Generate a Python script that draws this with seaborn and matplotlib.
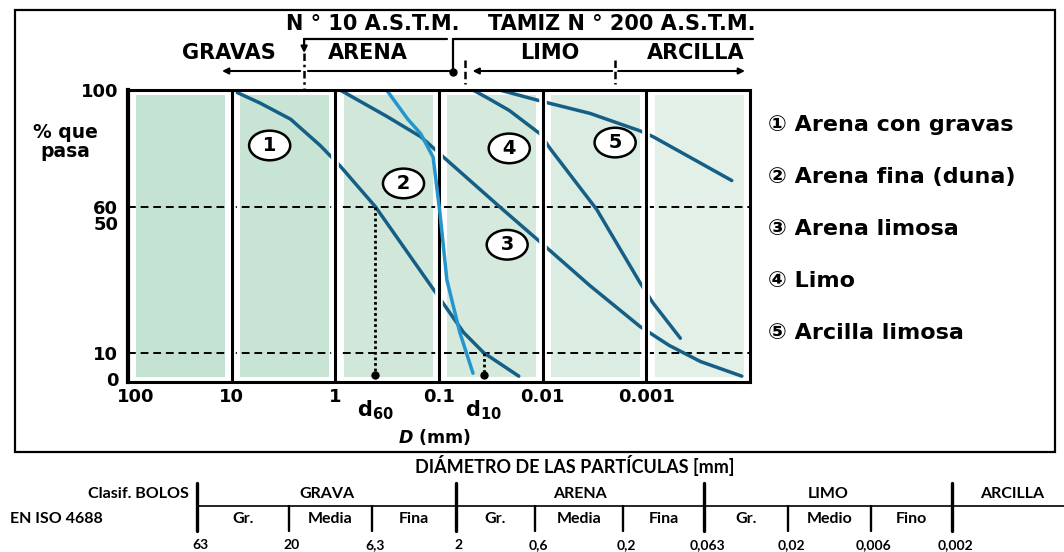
import numpy as np
import pandas as pd
import matplotlib
matplotlib.use("Agg")
import matplotlib.pyplot as plt
import seaborn as sns
from matplotlib.lines import Line2D
from matplotlib.patches import Rectangle
from matplotlib.transforms import blended_transform_factory, ScaledTranslation

# curvas granulometricas: D (mm) y % que pasa
D1 = [10, 5.3, 2.7, 1.4, 0.9, 0.41, 0.1, 0.058, 0.037, 0.017]
P1 = [100, 95.5, 90, 81, 74, 60, 29, 17, 10, 2]
D2 = [0.32, 0.2, 0.15, 0.114, 0.098, 0.084, 0.063, 0.047]
P2 = [100, 90, 85, 77, 58, 35, 17, 3]
D3 = [0.9, 0.32, 0.15, 0.084, 0.026, 0.0106, 0.0035, 0.00115, 0.0006, 0.0003, 0.00012]
P3 = [100, 91, 84, 76, 60, 48, 33, 19, 12.5, 7, 2]
D4 = [0.047, 0.033, 0.021, 0.0106, 0.0085, 0.003, 0.00115, 0.00086, 0.00047]
P4 = [100, 97, 93, 85, 80, 59, 34, 27, 15]
D5 = [0.026, 0.0099, 0.0035, 0.00115, 0.00086, 0.00015]
P5 = [100, 96, 92, 86, 84, 69]

curvas = ["Arena con gravas", "Arena fina (duna)", "Arena limosa", "Limo", "Arcilla limosa"]
simbolos = ["①", "②", "③", "④", "⑤"]
numeros = ["1", "2", "3", "4", "5"]
# donde van los numeros en circulo dentro del grafico
num_D = [4.3, 0.22, 0.022, 0.021, 0.002]
num_P = [81, 68, 47, 80, 82]

d60 = 0.41
d10 = 0.037

xticks = [100, 10, 1, 0.1, 0.01, 0.001]
xticklabels = ["100", "10", "1", "0.1", "0.01", "0.001"]
yticks = [0, 10, 50, 60, 100]
decadas = [100, 10, 1, 0.1, 0.01, 0.001, 0.0001]

# limites de las fracciones arriba (mm)
lim_n10 = 2
lim_n200 = 0.074
lim_arcilla = 0.002

# tabla EN ISO 4688
tabla_valores = ["63", "20", "6,3", "2", "0,6", "0,2", "0,063", "0,02", "0,006", "0,002"]
tabla_mayor = [1, 0, 0, 1, 0, 0, 1, 0, 0, 1]
grupos = ["GRAVA", "ARENA", "LIMO"]
subgrupos = ["Gr.", "Media", "Fina", "Gr.", "Media", "Fina", "Gr.", "Medio", "Fino"]

W, H = 1064, 552
tabla_x = [197, 289, 372, 456, 535, 623, 704, 788, 871, 952]   # pixeles

sns.set_theme(style="white")
plt.rcParams["font.family"] = ["DejaVu Sans", "Noto Sans CJK JP"]
plt.rcParams["font.weight"] = "bold"
plt.rcParams["text.color"] = "black"
plt.rcParams["mathtext.fontset"] = "custom"
plt.rcParams["mathtext.rm"] = "DejaVu Sans:bold"
plt.rcParams["mathtext.it"] = "DejaVu Sans:italic:bold"
plt.rcParams["mathtext.bf"] = "DejaVu Sans:bold"

fig = plt.figure(figsize=(W / 100, H / 100), dpi=100)
ax = fig.add_axes([128 / W, 1 - 382 / H, (750 - 128) / W, (382 - 90) / H])
ax.set_xscale("log")

filas = []
for nombre, D, P in zip(curvas, [D1, D2, D3, D4, D5], [P1, P2, P3, P4, P5]):
    for d, p in zip(D, P):
        filas.append({"curva": nombre, "D": d, "P": p})
df = pd.DataFrame(filas)
colores = dict(zip(curvas, ["#155f86", "#2595cd", "#155f86", "#155f86", "#155f86"]))

# la arena fina va encima de la linea de 0.1 mm, las demas debajo del halo
sns.lineplot(data=df[df.curva != curvas[1]], x="D", y="P", hue="curva", palette=colores,
             sort=False, estimator=None, lw=2.5, legend=False, ax=ax, zorder=3)
sns.lineplot(data=df[df.curva == curvas[1]], x="D", y="P", hue="curva", palette=colores,
             sort=False, estimator=None, lw=2.5, legend=False, ax=ax, zorder=5.5)

ax.set_xlim(100, 0.0001)
ax.set_ylim(0, 100)

# fondo verde por decada
verdes = ["#c4e2d1", "#c8e4d4", "#d0e7d9", "#d5e9dd", "#dbece2", "#e2f0e7"]
for i in range(6):
    izq = decadas[i] * 10 ** (-0.08)
    der = decadas[i + 1] * 10 ** (0.06)
    ax.axvspan(izq, der, 0.017, 0.983, color=verdes[i], lw=0, zorder=0)

# lineas 60 y 10 %
for yy in [60, 10]:
    ax.axhline(yy, color="black", lw=1.4, ls=(0, (4, 2.5)), zorder=2)

# lineas verticales con halo blanco
for v in decadas[1:-1]:
    ax.axvline(v, color="white", lw=5.5, zorder=4)
    ax.axvline(v, color="black", lw=2.2, zorder=5)

# d60 y d10
for dd, pp in [(d60, 60), (d10, 10)]:
    ax.plot([dd, dd], [pp, 2.5], color="black", lw=2, ls=(0, (1, 1)), zorder=3)
    ax.plot([dd], [2.5], "o", color="black", ms=5, zorder=3)

# numeros en circulo
for n, xd, yp in zip(numeros, num_D, num_P):
    ax.text(xd, yp, " " + n + " ", fontsize=14, ha="center", va="center", zorder=6,
            bbox=dict(boxstyle="ellipse,pad=0.05", fc="white", ec="black", lw=1.8))

for s in ax.spines.values():
    s.set_color("black")
    s.set_linewidth(2.2)
    s.set_zorder(6)
ax.spines["left"].set_linewidth(3)

ax.set_xticks(xticks)
ax.set_xticklabels(xticklabels)
ax.xaxis.set_minor_locator(matplotlib.ticker.NullLocator())
ax.set_yticks(yticks)
ax.set_yticklabels([str(y) for y in yticks])
ax.tick_params(axis="both", length=0, labelsize=13, colors="black")
ax.tick_params(axis="y", pad=7)
ax.tick_params(axis="x", pad=4)
ax.set_xlabel("")
ax.set_ylabel("")
for lbl in ax.get_yticklabels():
    if lbl.get_text() == "50":
        lbl.set_transform(lbl.get_transform() + ScaledTranslation(0, 0.13, fig.dpi_scale_trans))
    if lbl.get_text() == "0":
        lbl.set_transform(lbl.get_transform() + ScaledTranslation(0, 0.03, fig.dpi_scale_trans))
for lbl in ax.get_xticklabels():
    if lbl.get_text() == "100":
        lbl.set_transform(lbl.get_transform() + ScaledTranslation(0.08, 0, fig.dpi_scale_trans))

fig.canvas.draw()


def px(xd):
    # pixel x de un diametro
    return ax.transData.transform((xd, 50))[0]


def texto(x, y, s, **kw):
    fig.text(x / W, 1 - y / H, s, **kw)


def linea(xs, ys, **kw):
    fig.add_artist(Line2D([x / W for x in xs], [1 - y / H for y in ys],
                          transform=fig.transFigure, color="black", **kw))


def flecha(x0, x1, y0, y1=None, lw=1.5):
    if y1 is None:
        y1 = y0
    ax.annotate("", xy=(x1, H - y1), xytext=(x0, H - y0), xycoords="figure pixels",
                arrowprops=dict(arrowstyle="-|>", lw=lw, color="black", mutation_scale=9,
                                shrinkA=0, shrinkB=0))


trans = blended_transform_factory(ax.transData, fig.transFigure)
ax.text(d60, 1 - 410 / H, r"$\mathrm{d}_{60}$", transform=trans, fontsize=15,
        ha="center", va="center")
ax.text(d10, 1 - 410 / H, r"$\mathrm{d}_{10}$", transform=trans, fontsize=15,
        ha="center", va="center")
texto(434, 437, r"$D$ (mm)", fontsize=12.5, ha="center", va="center")

texto(65, 142, "% que\npasa", fontsize=13.5, ha="center", va="center", linespacing=1.0)

# cabecera ASTM
xa, xb, xc = px(lim_n10), px(lim_n200), px(lim_arcilla)
texto(373, 24, "N ° 10 A.S.T.M.", fontsize=15, ha="center", va="center")
texto(622, 24, "TAMIZ N ° 200 A.S.T.M.", fontsize=15, ha="center", va="center")
for s, xx in zip(["GRAVAS", "ARENA", "LIMO", "ARCILLA"], [229, 368, 550, 696]):
    texto(xx, 53, s, fontsize=15, ha="center", va="center")

linea([xa, xb - 6], [39, 39], lw=1.6)
flecha(xa, xa, 39, 53, lw=1.6)
linea([xa, xa], [53, 90], lw=1.8, ls=(0, (3, 1.5, 1, 1.5)))
linea([xb, 753], [39, 39], lw=1.6)
linea([xb, xb], [39, 72], lw=1.6)
linea([xb], [72], marker="o", ms=5)
linea([xb + 12, xb + 12], [60, 84], lw=1.8, ls=(0, (3, 1.5)))
linea([xc, xc], [60, 84], lw=1.8, ls=(0, (3, 1.5)))
flecha(xa - 4, 222, 71)
linea([xa + 4, xb], [71, 71], lw=1.5)
flecha(xc - 3, xb + 20, 71)
flecha(xc + 3, 745, 71)

# leyenda
for i, (sim, nombre) in enumerate(zip(simbolos, curvas)):
    texto(768, 125 + i * 52, sim + " " + nombre, fontsize=16, ha="left", va="center")

# marco exterior
fig.add_artist(Rectangle((15 / W, 1 - 452 / H), (1055 - 15) / W, (452 - 10) / H,
                         transform=fig.transFigure, fill=False, lw=1.6, ec="black"))

# tabla inferior
ft = ["Lato", "DejaVu Sans"]
texto(575, 466, "DIÁMETRO DE LAS PARTÍCULAS [mm]", fontsize=13, ha="center",
      va="center", family=ft)
texto(189, 494, "Clasif. BOLOS", fontsize=11.5, ha="right", va="center", family=ft)
texto(10, 519, "EN ISO 4688", fontsize=11.5, ha="left", va="center", family=ft)
mayores = [x for x, m in zip(tabla_x, tabla_mayor) if m]
for i, g in enumerate(grupos):
    texto((mayores[i] + mayores[i + 1]) / 2, 494, g, fontsize=11.5, ha="center",
          va="center", family=ft)
texto(1012, 494, "ARCILLA", fontsize=11.5, ha="center", va="center", family=ft)
linea([tabla_x[0], W], [506, 506], lw=1.2)
for x, m in zip(tabla_x, tabla_mayor):
    if m:
        linea([x, x], [483, 531], lw=2.4)
    else:
        linea([x, x], [506, 531], lw=1.7)
for i, s in enumerate(subgrupos):
    texto((tabla_x[i] + tabla_x[i + 1]) / 2, 519, s, fontsize=11.5, ha="center",
          va="center", family=ft)
for x, v in zip(tabla_x, tabla_valores):
    texto(x + 3, 545, v, fontsize=10, ha="center", va="center", family=ft)

fig.savefig("out.png", dpi=100)
